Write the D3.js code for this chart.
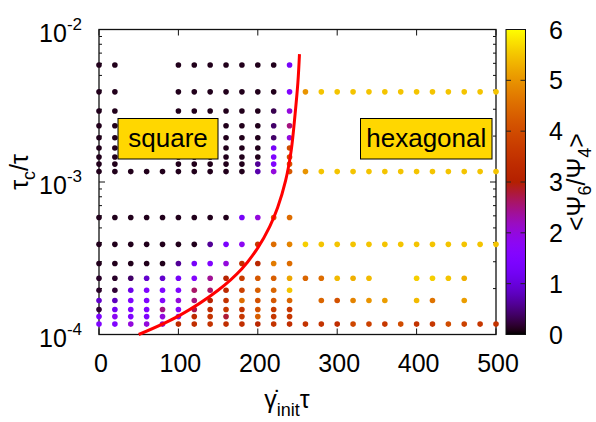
<!DOCTYPE html>
<html><head><meta charset="utf-8">
<script src="https://cdn.jsdelivr.net/npm/d3@7"></script>
<style>
body{margin:0;background:#fff}
svg{display:block}
text{font-family:"Liberation Sans",Arial,Helvetica,sans-serif;fill:#000}
</style>
</head><body>
<svg id="c" width="596" height="422"></svg>
<script>
const _ = null;
// x categories: shear rate * tau
const gammaInit = [0,20,40,60,80,100,120,140,160,180,200,220,240,260,280,300,320,340,360,380,400,420,440,460,480,500];
// y levels: tau_c / tau
const tauC = [1.17e-4,1.31e-4,1.46e-4,1.67e-4,1.95e-4,2.34e-4,2.92e-4,3.9e-4,5.85e-4,
              1.17e-3,1.31e-3,1.46e-3,1.67e-3,1.95e-3,2.34e-3,2.92e-3,3.9e-3,5.85e-3];
// <Psi6/Psi4> per row (one entry per gammaInit value, null = no point)
const psi_117e4 = [1.5,1.5,2.0,2.0,2.2,3.3,3.4,3.5,3.4,3.4,3.2,3.5,3.4,3.5,3.5,3.4,3.9,3.8,3.6,4.0,3.5,3.6,4.0,3.8,3.6,3.5];
const psi_131e4 = [1.4,1.8,1.5,1.5,2.0,1.9,3.3,3.5,2.8,3.6,4.3,3.6,3.6,_,_,_,_,_,_,_,_,_,_,_,_,_];
const psi_146e4 = [0.2,1.2,1.5,1.5,2.5,1.7,2.7,3.3,3.6,3.5,4.1,3.7,3.6,_,_,_,_,_,_,_,_,_,_,_,_,_];
const psi_167e4 = [0.9,0.8,1.5,1.5,1.6,2.0,2.5,3.1,3.5,4.5,4.1,4.2,4.4,_,4.4,4.1,4.8,5.0,5.1,_,5.4,4.6,_,5.1,_,_];
const psi_195e4 = [0.15,0.2,1.1,1.5,1.5,1.5,2.6,2.6,3.3,3.8,4.3,4.4,5.5,_,_,_,_,_,_,_,_,_,_,_,_,_];
const psi_234e4 = [0.15,0.15,0.4,0.9,0.9,1.3,1.6,2.4,3.1,3.7,4.2,4.3,5.2,4.4,4.5,5.4,5.3,5.4,_,_,5.6,5.6,5.5,5.3,_,_];
const psi_292e4 = [0.1,0.1,0.1,0.1,0.1,0.6,1.3,1.5,2.0,3.4,3.2,4.7,4.5,_,_,_,_,_,_,_,_,_,_,_,_,_];
const psi_390e4 = [0.1,0.1,0.1,0.1,0.1,0.1,0.1,0.6,1.4,1.8,3.6,4.5,4.8,5.6,5.5,5.5,5.5,5.5,5.5,5.5,5.5,5.5,5.5,5.5,5.5,5.5];
const psi_585e4 = [0.1,0.1,0.1,0.1,0.1,0.1,0.1,0.1,0.1,1.3,2.0,4.3,4.5,_,_,_,_,_,_,_,_,_,_,_,_,_];
const psi_117e3 = [0.1,0.1,0.1,0.1,0.1,0.1,0.1,0.1,0.1,0.1,0.7,2.0,4.2,5.0,5.5,5.5,5.5,5.5,5.5,5.5,5.5,5.5,5.5,5.5,5.5,5.5];
const psi_131e3 = [0.1,0.1,_,_,_,0.1,0.1,0.1,0.1,0.1,0.6,1.5,4.2,_,_,_,_,_,_,_,_,_,_,_,_,_];
const psi_146e3 = [0.1,0.1,_,_,_,0.1,0.1,0.1,0.1,0.1,0.1,1.5,4.0,_,_,_,_,_,_,_,_,_,_,_,_,_];
const psi_167e3 = [0.1,0.1,_,_,_,0.1,0.1,0.1,0.1,0.1,0.1,1.3,4.0,_,_,_,_,_,_,_,_,_,_,_,_,_];
const psi_195e3 = [0.1,0.1,_,_,_,0.1,0.1,0.1,0.1,0.1,0.1,0.4,2.0,_,_,_,_,_,_,_,_,_,_,_,_,_];
const psi_234e3 = [0.1,0.1,_,_,_,0.1,0.1,0.1,0.1,0.1,0.1,0.4,2.5,_,_,_,_,_,_,_,_,_,_,_,_,_];
const psi_292e3 = [0.1,0.1,_,_,_,0.1,0.1,0.1,0.1,0.1,0.1,0.3,2.0,_,_,_,_,_,_,_,_,_,_,_,_,_];
const psi_390e3 = [0.1,0.1,_,_,_,0.1,0.1,0.1,0.1,0.1,0.1,0.1,1.5,5.0,5.5,5.5,5.5,5.5,5.5,5.5,5.5,5.5,5.5,5.5,5.5,5.5];
const psi_585e3 = [0.1,0.1,_,_,_,0.1,0.1,0.1,0.1,0.1,0.1,0.1,1.3,_,_,_,_,_,_,_,_,_,_,_,_,_];
const psiRows = [psi_117e4,psi_131e4,psi_146e4,psi_167e4,psi_195e4,psi_234e4,psi_292e4,psi_390e4,psi_585e4,
                 psi_117e3,psi_131e3,psi_146e3,psi_167e3,psi_195e3,psi_234e3,psi_292e3,psi_390e3,psi_585e3];

// boundary curve
const curveGamma = [50,100,150,180,200,215,225,235,242,247,250.5,252.5];
const curveTau   = [1.0e-4,1.32e-4,1.95e-4,2.7e-4,3.7e-4,5.1e-4,6.8e-4,1.02e-3,1.6e-3,2.8e-3,4.5e-3,6.9e-3];

// ticks
const xTicks = [0,100,200,300,400,500];
const yTicks = [1e-4,1e-3,1e-2];
const yTickExp = ["-4","-3","-2"];
const yMinor = [2e-4,3e-4,4e-4,5e-4,6e-4,7e-4,8e-4,9e-4,2e-3,3e-3,4e-3,5e-3,6e-3,7e-3,8e-3,9e-3];
const cbTicks = [0,1,2,3,4,5,6];
const phaseLabels = ["square","hexagonal"];

// gnuplot default palette (rgbformulae 7,5,15)
function palette(v){
  const t = Math.max(0, Math.min(1, v/6));
  return d3.rgb(255*Math.sqrt(t), 255*t*t*t, 255*Math.max(0, Math.sin(2*Math.PI*t))).formatHex();
}

const svg = d3.select("#c");
const L = 99, R = 496, T = 29.5, B = 334.5;
const x = d3.scaleLinear().domain([0,500]).range([L,R]);
const y = d3.scaleLog().domain([1e-4,1e-2]).range([B,T]);
const cbL = 506, cbR = 525.5;
const c = d3.scaleLinear().domain([0,6]).range([B,T]);

// border
svg.append("rect").attr("x",L).attr("y",T).attr("width",R-L).attr("height",B-T)
  .attr("fill","none").attr("stroke","#111").attr("stroke-width",1.3);

// ticks (inward, mirrored)
const tk = svg.append("g").attr("stroke","#111").attr("stroke-width",1);
xTicks.forEach(v=>{
  tk.append("line").attr("x1",x(v)).attr("x2",x(v)).attr("y1",B).attr("y2",B-6);
  tk.append("line").attr("x1",x(v)).attr("x2",x(v)).attr("y1",T).attr("y2",T+6);
});
yTicks.forEach(v=>{
  tk.append("line").attr("x1",L).attr("x2",L+6).attr("y1",y(v)).attr("y2",y(v));
  tk.append("line").attr("x1",R).attr("x2",R-6).attr("y1",y(v)).attr("y2",y(v));
});
yMinor.forEach(v=>{
  tk.append("line").attr("x1",L).attr("x2",L+3).attr("y1",y(v)).attr("y2",y(v));
  tk.append("line").attr("x1",R).attr("x2",R-3).attr("y1",y(v)).attr("y2",y(v));
});

// tick labels
const xl = svg.append("g").attr("font-size",25).attr("text-anchor","middle");
xTicks.forEach(v=>{ xl.append("text").attr("x",x(v)+2).attr("y",371.5).text(v); });
const yl = svg.append("g").attr("font-size",25).attr("text-anchor","end");
yTicks.forEach((v,i)=>{
  const t = yl.append("text").attr("x",82).attr("y",y(v)+12);
  t.append("tspan").text("10");
  t.append("tspan").attr("font-size",17).attr("dy",-12).text(yTickExp[i]);
});

// data points
const dots = svg.append("g");
psiRows.forEach((row,ri)=>{
  row.forEach((v,ci)=>{
    if (v === null) return;
    dots.append("circle").attr("cx",x(gammaInit[ci])).attr("cy",y(tauC[ri])).attr("r",2.8)
      .attr("fill",palette(v));
  });
});

// phase label boxes
const boxes = [
  {t:phaseLabels[0], x0:118, x1:218},
  {t:phaseLabels[1], x0:360.5, x1:492}
];
boxes.forEach(b=>{
  svg.append("rect").attr("x",b.x0).attr("y",118.5).attr("width",b.x1-b.x0).attr("height",40.5)
    .attr("fill","#ffd700").attr("stroke","#000").attr("stroke-width",1);
  svg.append("text").attr("x",(b.x0+b.x1)/2).attr("y",146.5).attr("text-anchor","middle")
    .attr("font-size",26).text(b.t);
});

// boundary curve
const line = d3.line().x(d=>x(d[0])).y(d=>y(d[1])).curve(d3.curveCatmullRom.alpha(0.5));
svg.append("path").datum(curveGamma.map((g,i)=>[g,curveTau[i]])).attr("d",line)
  .attr("fill","none").attr("stroke","#ff0000").attr("stroke-width",3);

// colour bar
const defs = svg.append("defs");
const grad = defs.append("linearGradient").attr("id","cbg").attr("x1",0).attr("y1",1).attr("x2",0).attr("y2",0);
d3.range(0,61).forEach(i=>{
  grad.append("stop").attr("offset",(i/60)).attr("stop-color",palette(i/10));
});
svg.append("rect").attr("x",cbL).attr("y",T).attr("width",cbR-cbL).attr("height",B-T)
  .attr("fill","url(#cbg)").attr("stroke","#111").attr("stroke-width",1);
const ct = svg.append("g").attr("stroke","#222").attr("stroke-width",1);
cbTicks.slice(1,-1).forEach(v=>{
  ct.append("line").attr("x1",cbL).attr("x2",cbL+5).attr("y1",c(v)).attr("y2",c(v));
  ct.append("line").attr("x1",cbR).attr("x2",cbR-5).attr("y1",c(v)).attr("y2",c(v));
});
const cl = svg.append("g").attr("font-size",25);
cbTicks.forEach(v=>{ cl.append("text").attr("x",549).attr("y",c(v)+9).text(v); });

// axis titles
const xt = svg.append("text").attr("x",287).attr("y",408).attr("text-anchor","middle").attr("font-size",25);
xt.append("tspan").text("\u03B3\u0307");
xt.append("tspan").attr("font-size",18).attr("dy",8).text("init");
xt.append("tspan").attr("dy",-8).text("\u03C4");

const yt = svg.append("text").attr("transform","translate(28,172) rotate(-90)")
  .attr("text-anchor","middle").attr("font-size",25);
yt.append("tspan").text("\u03C4");
yt.append("tspan").attr("font-size",18).attr("dy",7).text("c");
yt.append("tspan").attr("dy",-7).text("/\u03C4");

const ctit = svg.append("text").attr("transform","translate(585,182) rotate(-90)")
  .attr("text-anchor","middle").attr("font-size",25);
ctit.append("tspan").text("<\u03A8");
ctit.append("tspan").attr("font-size",18).attr("dy",6).text("6");
ctit.append("tspan").attr("dy",-6).text("/\u03A8");
ctit.append("tspan").attr("font-size",18).attr("dy",6).text("4");
ctit.append("tspan").attr("dy",-6).text(">");
</script>
</body></html>
